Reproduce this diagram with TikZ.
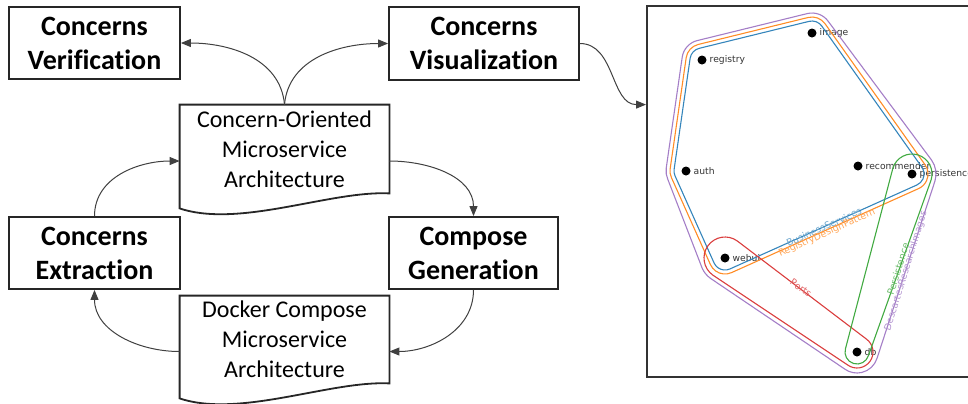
\documentclass[tikz,border=0pt]{standalone}
\usepackage{fontspec}
\setmainfont{Carlito}[Ligatures=NoCommon]
\newfontfamily\plotfont{DejaVu Sans}
\usetikzlibrary{calc,arrows.meta}

\definecolor{tabblue}{HTML}{1F77B4}
\definecolor{taborange}{HTML}{FF7F0E}
\definecolor{tabgreen}{HTML}{2CA02C}
\definecolor{tabred}{HTML}{D62728}
\definecolor{tabpurple}{HTML}{9467BD}

\tikzset{
  proc/.style={draw=black!85, line width=0.9pt, align=center, inner sep=0pt,
    font=\bfseries\fontsize{14}{17}\selectfont},
  docu/.style={align=center, inner sep=0pt, minimum width=104.5pt,
    font=\fontsize{12}{15}\selectfont},
  docline/.style={draw=black!85, line width=0.9pt},
  flow/.style={->, draw=black!75, line width=0.5pt},
  dot/.style={circle, fill=black, inner sep=0pt, minimum size=4.5pt},
  lbl/.style={font=\plotfont\fontsize{4.6}{5}\selectfont, text=black!80, inner sep=1.2pt},
  hull/.style={line width=0.55pt},
  hlabel/.style={font=\plotfont\fontsize{4.7}{5}\selectfont, inner sep=0pt}
}

\begin{document}
\begin{tikzpicture}[x=0.5pt, y=-0.5pt, >={Triangle[length=5pt,width=4pt]}]
\useasboundingbox (0,0) rectangle (968,403);

% process boxes
\node[proc, minimum width=85.5pt, minimum height=36pt] (verif) at (94.5,43) {Concerns\\Verification};
\node[proc, minimum width=95pt, minimum height=36.5pt] (visual) at (484,43.5) {Concerns\\Visualization};
\node[proc, minimum width=85.5pt, minimum height=36pt] (extract) at (94.5,253) {Concerns\\Extraction};
\node[proc, minimum width=84.5pt, minimum height=36pt] (compgen) at (473.5,253) {Compose\\Generation};

% documents
\node[docu, minimum height=44pt] (coma) at (284.5,149) {Concern-Oriented\\Microservice\\Architecture};
\node[docu, minimum height=43.5pt] (dcma) at (284.5,339.5) {Docker Compose\\Microservice\\Architecture};
\draw[docline] (coma.south east) -- (coma.north east) -- (coma.north west) -- ($(coma.south west)+(0,15)$)
  .. controls ($(coma.south west)+(60,35)$) and ($(coma.south east)+(-59,-3)$) .. (coma.south east) -- cycle;
\draw[docline] (dcma.south east) -- (dcma.north east) -- (dcma.north west) -- ($(dcma.south west)+(0,15)$)
  .. controls ($(dcma.south west)+(60,35)$) and ($(dcma.south east)+(-59,-3)$) .. (dcma.south east) -- cycle;

% plot frame
\node[draw=black!80, line width=1pt, minimum width=164pt, minimum height=185.5pt, inner sep=0pt] (plot) at (811,191.5) {};
\coordinate (plotin) at ($(plot.north west)!0.267!(plot.south west)$);

% cycle
\draw[flow] (coma.north) to[out=95,in=0] (verif.east);
\draw[flow] (coma.north) to[out=85,in=180] (visual.west);
\draw[flow] (visual.east) to[out=0,in=180] (plotin);
\draw[flow] ($(coma.east)+(0,12)$) to[out=0,in=90] (compgen.north);
\draw[flow] (compgen.south) to[out=-90,in=0] ($(dcma.east)+(0,12)$);
\draw[flow] ($(dcma.west)+(0,12)$) to[out=180,in=-90] (extract.south);
\draw[flow] (extract.north) to[out=90,in=180] ($(coma.west)+(0,12)$);

% services
\node[dot, label={[lbl]right:image}] (image) at (812,33) {};
\node[dot, label={[lbl]right:registry}] (registry) at (702,60) {};
\node[dot, label={[lbl]right:auth}] (auth) at (686,171) {};
\node[dot, label={[lbl]right:recommender}] (recomm) at (858,166) {};
\node[dot, label={[lbl]right:persistence}] (persist) at (912,174) {};
\node[dot, label={[lbl]right:webui}] (webui) at (725,258) {};
\node[dot, label={[lbl]right:db}] (db) at (857,352) {};

% hulls
\draw[hull, tabblue!90] ($(image.center)+(103.79:6pt)$) arc[start angle=103.79,end angle=35.35,radius=6pt]
  -- ($(persist.center)+(35.35:6pt)$) arc[start angle=35.35,end angle=-65.81,radius=6pt]
  -- ($(webui.center)+(-65.81:6pt)$) arc[start angle=-65.81,end angle=-155.85,radius=6pt]
  -- ($(auth.center)+(-155.85:6pt)$) arc[start angle=-155.85,end angle=-188.2,radius=6pt]
  -- ($(registry.center)+(-188.2:6pt)$) arc[start angle=-188.2,end angle=-256.21,radius=6pt]
  -- cycle;
\draw[hull, taborange!90] ($(image.center)+(103.79:8pt)$) arc[start angle=103.79,end angle=35.35,radius=8pt]
  -- ($(persist.center)+(35.35:8pt)$) arc[start angle=35.35,end angle=-65.81,radius=8pt]
  -- ($(webui.center)+(-65.81:8pt)$) arc[start angle=-65.81,end angle=-155.85,radius=8pt]
  -- ($(auth.center)+(-155.85:8pt)$) arc[start angle=-155.85,end angle=-188.2,radius=8pt]
  -- ($(registry.center)+(-188.2:8pt)$) arc[start angle=-188.2,end angle=-256.21,radius=8pt]
  -- cycle;
\draw[hull, tabpurple!85] ($(image.center)+(103.79:10pt)$) arc[start angle=103.79,end angle=35.35,radius=10pt]
  -- ($(persist.center)+(35.35:12pt)$) arc[start angle=35.35,end angle=-17.17,radius=12pt]
  -- ($(db.center)+(-17.17:10.5pt)$) arc[start angle=-17.17,end angle=-125.46,radius=10.5pt]
  -- ($(webui.center)+(-125.46:12.5pt)$) arc[start angle=-125.46,end angle=-155.85,radius=12.5pt]
  -- ($(auth.center)+(-155.85:10pt)$) arc[start angle=-155.85,end angle=-188.2,radius=10pt]
  -- ($(registry.center)+(-188.2:10pt)$) arc[start angle=-188.2,end angle=-256.21,radius=10pt]
  -- cycle;
\draw[hull, tabred!90] ($(webui.center)+(234.54:10.5pt)$) arc[start angle=234.54,end angle=54.54,radius=10.5pt]
  -- ($(db.center)+(54.54:8pt)$) arc[start angle=54.54,end angle=-125.46,radius=8pt]
  -- cycle;
\draw[hull, tabgreen!90] ($(persist.center)+(162.83:10pt)$) arc[start angle=162.83,end angle=-17.17,radius=10pt]
  -- ($(db.center)+(-17.17:6pt)$) arc[start angle=-17.17,end angle=-197.17,radius=6pt]
  -- cycle;

% hull names
\node[hlabel, text=tabblue!65, rotate=24.19] (bsname) at (824,227) {BusinessServices};
\node[hlabel, text=taborange!70, rotate=24.19] (rdpname) at (827,233) {RegistryDesignPattern};
\node[hlabel, text=tabred!70, rotate=-35.46] (portsname) at (801,288) {Ports};
\node[hlabel, text=tabgreen!70, rotate=72.83] (persname) at (898,269) {Persistence};
\node[hlabel, text=tabpurple!70, rotate=72.83] (dritname) at (906,271) {DescartesResearchImages};
\end{tikzpicture}
\end{document}
